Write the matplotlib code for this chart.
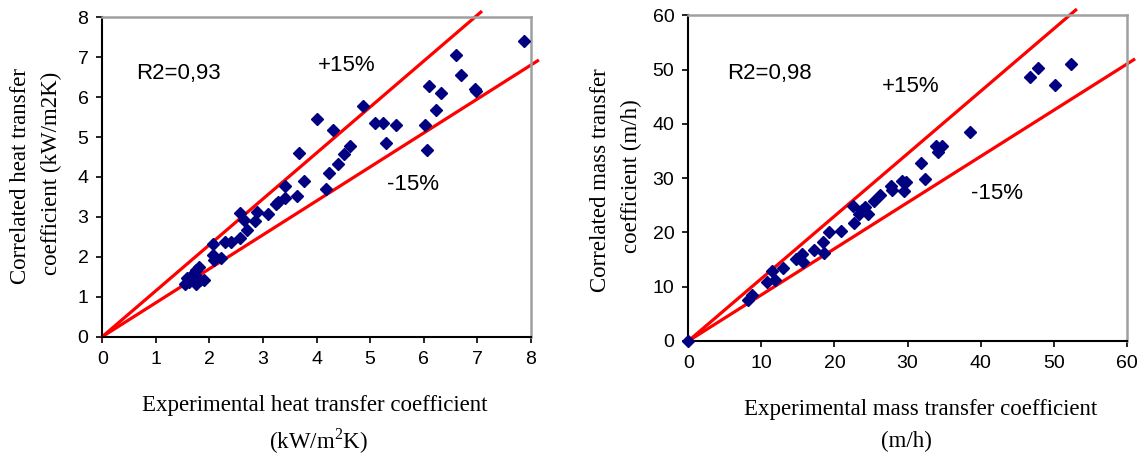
import matplotlib
matplotlib.use("Agg")
import matplotlib.pyplot as plt
import numpy as np

# ---- data: heat transfer (left) ----
heat_exp = [7.87, 6.61, 6.70, 6.96, 6.98, 6.10, 6.33, 6.24, 6.02, 6.07,
            4.87, 5.09, 5.24, 5.49, 5.30, 4.00, 4.30, 4.62, 4.52, 4.40,
            4.23, 4.17, 3.67, 3.77, 3.64, 3.41, 3.41, 3.29, 3.24, 3.09,
            2.89, 2.86, 2.70, 2.64, 2.58, 2.58, 2.41, 2.30, 2.06, 2.06,
            2.22, 2.09, 1.80, 1.75, 1.89, 1.75, 1.64, 1.55, 1.58, 1.70,
            1.83, 1.61]
heat_cor = [7.40, 7.06, 6.56, 6.21, 6.15, 6.29, 6.11, 5.67, 5.31, 4.68,
            5.77, 5.36, 5.36, 5.31, 4.86, 5.44, 5.17, 4.77, 4.58, 4.33,
            4.10, 3.71, 4.60, 3.89, 3.52, 3.77, 3.47, 3.37, 3.32, 3.08,
            3.12, 2.89, 2.67, 2.92, 3.11, 2.48, 2.36, 2.36, 2.33, 2.04,
            1.96, 1.92, 1.75, 1.68, 1.43, 1.33, 1.50, 1.33, 1.46, 1.50,
            1.42, 1.37]

# ---- data: mass transfer (right) ----
mass_exp = [0.0, 8.1, 8.7, 10.8, 11.5, 11.8, 12.9, 14.7, 15.6, 15.7,
            17.2, 18.4, 18.5, 19.3, 20.9, 22.6, 22.7, 23.3, 23.8, 24.2,
            24.6, 25.4, 26.2, 27.7, 27.9, 29.3, 29.5, 29.8, 31.9, 32.4,
            33.9, 34.1, 34.7, 38.5, 46.7, 47.8, 50.2, 52.4]
mass_cor = [0.0, 7.6, 8.5, 10.8, 12.9, 11.2, 13.5, 15.1, 16.0, 14.5,
            16.7, 18.3, 16.3, 20.1, 20.3, 24.9, 21.7, 23.4, 24.1, 24.6,
            23.4, 25.8, 26.9, 28.6, 27.8, 29.5, 27.6, 29.2, 32.8, 29.8,
            35.9, 34.8, 35.9, 38.5, 48.7, 50.3, 47.1, 51.1]

heat_ticks = [0, 1, 2, 3, 4, 5, 6, 7, 8]
mass_ticks = [0, 10, 20, 30, 40, 50, 60]
heat_r2 = "R2=0,93"
mass_r2 = "R2=0,98"
upper_factor = 1.15
lower_factor = 0.85

SANS = ["Liberation Sans", "DejaVu Sans"]
SERIF = ["Liberation Serif", "DejaVu Serif"]
LBL = 16.5

fig = plt.figure(figsize=(11.48, 4.59), dpi=100)

def setup(ax, ticks, lim):
    ax.set_xlim(0, lim)
    ax.set_ylim(0, lim)
    ax.set_xticks(ticks)
    ax.set_yticks(ticks)
    for s in ["left", "bottom"]:
        ax.spines[s].set_color("black")
        ax.spines[s].set_linewidth(1.5)
    for s in ["top", "right"]:
        ax.spines[s].set_color("#a0a0a0")
        ax.spines[s].set_linewidth(1.8)
    ax.tick_params(direction="out", length=4, width=1.2, color="black",
                   labelsize=14, pad=6)
    for lab in ax.get_xticklabels() + ax.get_yticklabels():
        lab.set_family(SANS)

def draw(ax, x, y, lim):
    ext = lim * 1.016
    ax.plot([0, ext / upper_factor], [0, ext], color="#ff0000", lw=2.3,
            clip_on=False, zorder=2)
    ax.plot([0, ext], [0, ext * lower_factor], color="#ff0000", lw=2.3,
            clip_on=False, zorder=2)
    ax.plot(x, y, linestyle="none", marker="D", ms=6.5, color="#000080",
            clip_on=False, zorder=3)

# left
ax1 = fig.add_axes([0.0891, 0.2665, 0.3732, 0.6959])
setup(ax1, heat_ticks, 8)
draw(ax1, heat_exp, heat_cor, 8)
ax1.text(0.63, 6.58, heat_r2, fontsize=16, family=SANS, va="center", ha="left")
ax1.text(4.57, 6.79, "+15%", fontsize=16, family=SANS, va="center", ha="center")
ax1.text(5.81, 3.82, "-15%", fontsize=16, family=SANS, va="center", ha="center")
fig.text(315 / 1148, 1 - 406 / 459, "Experimental heat transfer coefficient",
         fontsize=LBL, family=SERIF, ha="center", va="center")
fig.text(318 / 1148, 1 - 441 / 459, "(kW/m$^{\\mathregular{2}}$K)",
         fontsize=LBL, family=SERIF, ha="center", va="center")
fig.text(21 / 1148, 1 - 176 / 459, "Correlated heat transfer",
         fontsize=LBL, family=SERIF, ha="center", va="center", rotation=90)
fig.text(51 / 1148, 1 - 173 / 459, "coefficient (kW/m2K)",
         fontsize=LBL, family=SERIF, ha="center", va="center", rotation=90)

# right
ax2 = fig.add_axes([0.5996, 0.2571, 0.3819, 0.7096])
setup(ax2, mass_ticks, 60)
draw(ax2, mass_exp, mass_cor, 60)
ax2.text(5.28, 49.24, mass_r2, fontsize=16, family=SANS, va="center", ha="left")
ax2.text(30.47, 46.9, "+15%", fontsize=16, family=SANS, va="center", ha="center")
ax2.text(42.2, 27.2, "-15%", fontsize=16, family=SANS, va="center", ha="center")
fig.text(921 / 1148, 1 - 409 / 459, "Experimental mass transfer coefficient",
         fontsize=LBL, family=SERIF, ha="center", va="center")
fig.text(906 / 1148, 1 - 441 / 459, "(m/h)",
         fontsize=LBL, family=SERIF, ha="center", va="center")
fig.text(600 / 1148, 1 - 180 / 459, "Correlated mass transfer",
         fontsize=LBL, family=SERIF, ha="center", va="center", rotation=90)
fig.text(631 / 1148, 1 - 176 / 459, "coefficient (m/h)",
         fontsize=LBL, family=SERIF, ha="center", va="center", rotation=90)

fig.savefig("out.png", dpi=100)
